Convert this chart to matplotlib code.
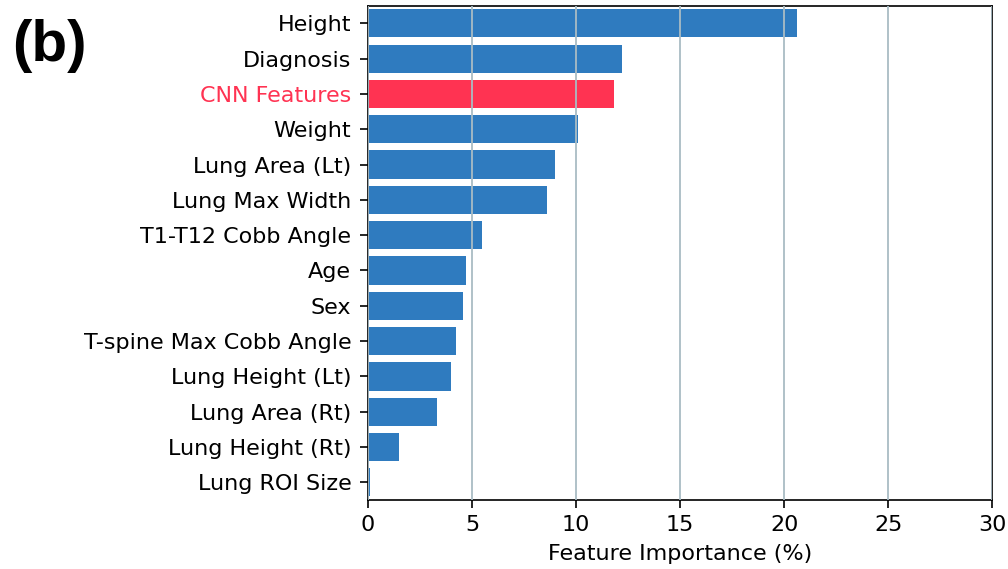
import matplotlib
matplotlib.use('Agg')
import matplotlib.pyplot as plt

# feature importances (%) from the random forest, top to bottom
features = ['Height', 'Diagnosis', 'CNN Features', 'Weight', 'Lung Area (Lt)',
            'Lung Max Width', 'T1-T12 Cobb Angle', 'Age', 'Sex',
            'T-spine Max Cobb Angle', 'Lung Height (Lt)', 'Lung Area (Rt)',
            'Lung Height (Rt)', 'Lung ROI Size']
importance = [20.6, 12.2, 11.8, 10.1, 9.0, 8.6, 5.5, 4.7, 4.55, 4.25, 4.0, 3.3, 1.5, 0.1]
highlight = 'CNN Features'

blue = '#2f7bbf'
red = '#ff3352'

fig = plt.figure(figsize=(10.08, 5.69), dpi=100)
ax = fig.add_axes([0.365, 0.1213, 0.6196, 0.8687])

colors = [red if f == highlight else blue for f in features]
ypos = list(range(len(features)))
ax.barh(ypos, importance, height=0.8, color=colors, zorder=2)
ax.set_yticks(ypos)
ax.set_yticklabels(features, fontsize=16)
ax.set_ylim(len(features) - 0.5, -0.5)
for lbl in ax.get_yticklabels():
    if lbl.get_text() == highlight:
        lbl.set_color(red)

ax.set_xlim(0, 30)
ax.set_xticks([0, 5, 10, 15, 20, 25, 30])
ax.tick_params(axis='x', labelsize=16, length=6, width=1.2, pad=5)
ax.tick_params(axis='y', length=6, width=1.2, pad=6)
ax.xaxis.grid(True, color='#a9bcc4', linewidth=1.3, zorder=3)
ax.set_axisbelow(False)
ax.set_xlabel('Feature Importance (%)', fontsize=16, labelpad=6)
for s in ax.spines.values():
    s.set_linewidth(1.2)

fig.text(0.012, 0.92, '(b)', fontsize=42, fontweight='bold',
         family='Liberation Sans', va='center', ha='left')

fig.savefig('out.png', dpi=100)
